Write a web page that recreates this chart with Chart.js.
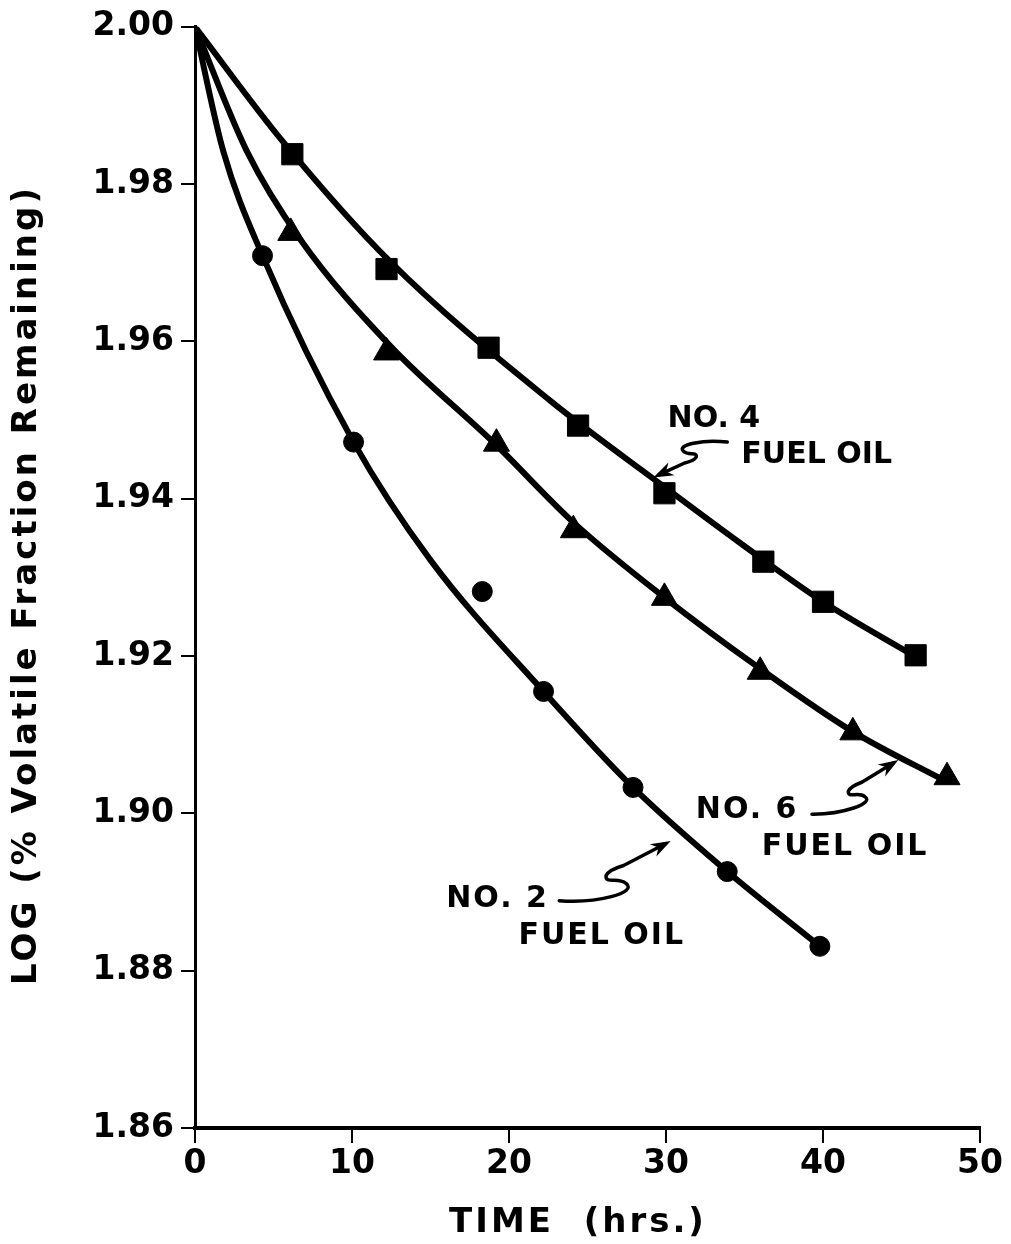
<!DOCTYPE html>
<html>
<head>
<meta charset="utf-8">
<title>Log volatile fraction remaining vs time</title>
<script src="https://cdn.jsdelivr.net/npm/chart.js@4.4.1/dist/chart.umd.min.js"></script>
<style>
  html, body { margin: 0; padding: 0; background: #fff; }
  #wrap { width: 1011px; height: 1244px; }
</style>
</head>
<body>
<div id="wrap"><canvas id="chart" width="1011" height="1244"></canvas></div>
<script>
// axis ticks
const xTicks = [0, 10, 20, 30, 40, 50];
const yTicks = [1.86, 1.88, 1.90, 1.92, 1.94, 1.96, 1.98, 2.00];

// measured points (hours, log % remaining)
const hours2 = [4.3, 10.1, 18.3, 22.2, 27.9, 33.9, 39.8];
const log2 = [1.9709, 1.9472, 1.9282, 1.9155, 1.9033, 1.8926, 1.8831];

const hours4 = [6.2, 12.2, 18.7, 24.4, 29.9, 36.2, 40.0, 45.9];
const log4 = [1.9838, 1.9692, 1.9592, 1.9493, 1.9407, 1.9320, 1.9269, 1.9201];

const hours6 = [6.1, 12.2, 19.2, 24.1, 29.9, 36.0, 41.9, 47.9];
const log6 = [1.9738, 1.9586, 1.9470, 1.9360, 1.9274, 1.9180, 1.9103, 1.9046];

// hand-drawn fitted curves
const curveHours2 = [0, 1.8, 4.3, 10.1, 15.0, 22.2, 27.9, 33.9, 39.8];
const curveLog2 = [2.000, 1.9842, 1.9709, 1.9472, 1.9322, 1.9155, 1.9033, 1.8926, 1.8831];

const curveHours4 = [0, 5.6, 12.4, 22.6, 29.9, 34.7, 40.0, 45.9];
const curveLog4 = [2.000, 1.9854, 1.9702, 1.9525, 1.9415, 1.9344, 1.9269, 1.9199];

const curveHours6 = [0, 3.3, 6.7, 12.4, 19.2, 24.1, 29.8, 36.0, 41.9, 47.9];
const curveLog6 = [2.000, 1.9842, 1.9730, 1.9595, 1.9468, 1.9370, 1.9276, 1.9184, 1.9104, 1.9040];

const toXY = (xs, ys) => xs.map((v, i) => ({ x: v, y: ys[i] }));

function curve(xs, ys) {
  return {
    type: 'line',
    data: toXY(xs, ys),
    borderColor: '#000',
    borderWidth: 6,
    pointRadius: 0,
    cubicInterpolationMode: 'monotone',
    fill: false
  };
}

function markers(xs, ys, style, r) {
  return {
    type: 'scatter',
    data: toXY(xs, ys),
    showLine: false,
    pointStyle: style,
    pointRadius: r,
    pointHoverRadius: r,
    backgroundColor: '#000',
    borderColor: '#000',
    borderWidth: 1
  };
}

// squiggly pointer from a label to its curve
function squiggle(ctx, sx, sy, tx, ty) {
  const dx = tx - sx, dy = ty - sy, L = Math.hypot(dx, dy);
  const ux = dx / L, uy = dy / L, vx = -uy, vy = ux;
  const p = (a, b) => [sx + ux * a * L + vx * b * L, sy + uy * a * L + vy * b * L];
  ctx.beginPath();
  ctx.moveTo(sx, sy);
  ctx.bezierCurveTo(...p(0.25, 0.16), ...p(0.58, 0.24), ...p(0.53, 0.13));
  ctx.bezierCurveTo(...p(0.5, 0.05), ...p(0.38, 0.06), ...p(0.42, 0.0));
  ctx.quadraticCurveTo(...p(0.46, -0.03), ...p(0.58, -0.005));
  ctx.lineTo(tx - ux * 6, ty - uy * 6);
  ctx.stroke();
  // arrow head
  const hl = 20, hw = 7;
  ctx.beginPath();
  ctx.moveTo(tx, ty);
  ctx.lineTo(tx - ux * hl + vx * hw, ty - uy * hl + vy * hw);
  ctx.lineTo(tx - ux * hl * 0.7, ty - uy * hl * 0.7);
  ctx.lineTo(tx - ux * hl - vx * hw, ty - uy * hl - vy * hw);
  ctx.closePath();
  ctx.fill();
}

const notes = [
  { lines: ['NO. 4', 'FUEL OIL'], at: [[30.1, 1.9491], [34.8, 1.9445]], from: [33.9, 1.9472], to: [29.2, 1.9427], size: 30, gap: 0 },
  { lines: ['NO. 6', 'FUEL OIL'], at: [[31.9, 1.8994], [36.1, 1.8947]], from: [39.3, 1.8999], to: [44.8, 1.9068], size: 30, gap: 2 },
  { lines: ['NO. 2', 'FUEL OIL'], at: [[16.0, 1.8881], [20.6, 1.8834]], from: [23.2, 1.8889], to: [30.3, 1.8965], size: 30, gap: 2 }
];

const decorations = {
  id: 'decorations',
  afterDraw(chart) {
    const { ctx, scales: { x, y } } = chart;
    ctx.save();
    ctx.fillStyle = '#000';
    ctx.strokeStyle = '#000';
    ctx.lineCap = 'round';
    ctx.lineJoin = 'round';
    ctx.textAlign = 'left';
    ctx.textBaseline = 'alphabetic';

    notes.forEach(n => {
      ctx.font = 'bold ' + n.size + 'px "DejaVu Sans"';
      ctx.letterSpacing = n.gap + 'px';
      n.lines.forEach((t, i) => {
        ctx.fillText(t, x.getPixelForValue(n.at[i][0]), y.getPixelForValue(n.at[i][1]));
      });
      ctx.lineWidth = 3.5;
      squiggle(ctx,
        x.getPixelForValue(n.from[0]), y.getPixelForValue(n.from[1]),
        x.getPixelForValue(n.to[0]), y.getPixelForValue(n.to[1]));
    });

    // axis titles
    ctx.font = 'bold 34px "DejaVu Sans"';
    ctx.letterSpacing = '3px';
    ctx.textAlign = 'center';
    ctx.save();
    ctx.translate(36, 585);
    ctx.rotate(-Math.PI / 2);
    ctx.fillText('LOG (% Volatile Fraction Remaining)', 0, 0);
    ctx.restore();

    ctx.letterSpacing = '3px';
    ctx.fillText('TIME  (hrs.)', 578, 1232);
    ctx.letterSpacing = '0px';
    ctx.restore();
  }
};

const tickFont = { family: 'DejaVu Sans', size: 33, weight: 'bold' };

new Chart(document.getElementById('chart'), {
  type: 'scatter',
  data: {
    datasets: [
      curve(curveHours4, curveLog4),
      curve(curveHours6, curveLog6),
      curve(curveHours2, curveLog2),
      markers(hours4, log4, 'rect', 15),
      markers(hours6, log6, 'triangle', 15),
      markers(hours2, log2, 'circle', 10)
    ]
  },
  options: {
    responsive: false,
    animation: false,
    events: [],
    layout: { padding: { top: 25, right: 31, left: 0, bottom: 0 } },
    plugins: {
      legend: { display: false },
      tooltip: { enabled: false }
    },
    scales: {
      x: {
        type: 'linear',
        min: 0,
        max: 50,
        afterBuildTicks: s => { s.ticks = xTicks.map(v => ({ value: v })); },
        afterFit: s => { s.height = 116; },
        ticks: { color: '#000', font: tickFont, padding: 2, maxRotation: 0 },
        grid: { drawOnChartArea: false, drawTicks: true, tickLength: 15, color: '#000', lineWidth: 2 },
        border: { display: true, color: '#000', width: 4 }
      },
      y: {
        type: 'linear',
        min: 1.86,
        max: 2.00,
        afterBuildTicks: s => { s.ticks = yTicks.map(v => ({ value: v })); },
        afterFit: s => { s.width = 195; },
        ticks: { color: '#000', font: tickFont, padding: 7, callback: v => v.toFixed(2) },
        grid: { drawOnChartArea: false, drawTicks: true, tickLength: 14, color: '#000', lineWidth: 2 },
        border: { display: true, color: '#000', width: 3 }
      }
    }
  },
  plugins: [decorations]
});
</script>
</body>
</html>
